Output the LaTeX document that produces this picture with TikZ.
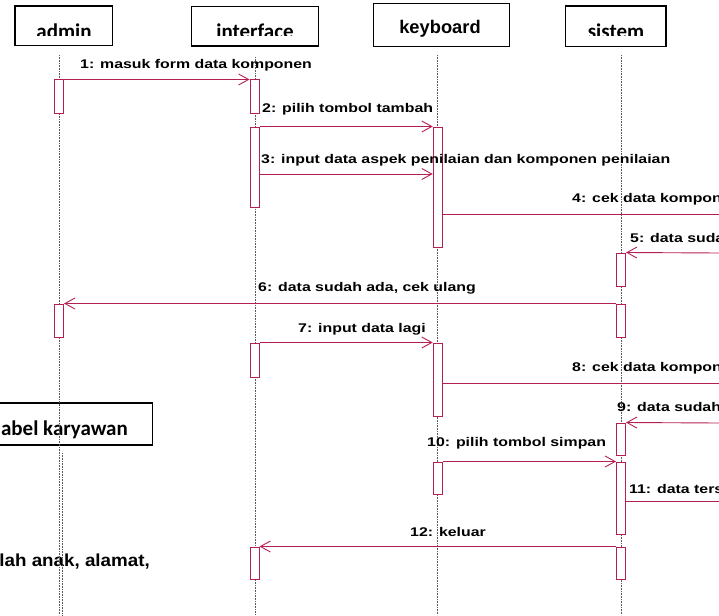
\documentclass[tikz,border=0pt]{standalone}
\usepackage{fontspec}
\setmainfont{Liberation Sans}
\newfontfamily\msgfont{Liberation Sans}[FakeStretch=1.26]
\newfontfamily\notefont{Liberation Sans}[FakeStretch=1.08]
\newfontfamily\calfont{Carlito}
\usetikzlibrary{arrows.meta}
\definecolor{msgred}{RGB}{180,32,86}
\definecolor{lifegray}{RGB}{90,90,90}

\begin{document}
\begin{tikzpicture}[x=1pt,y=-1pt,
  hdr/.style={draw=black, line width=1.5pt, fill=white, inner sep=0pt},
  hdrtext/.style={anchor=base, inner sep=0pt, font=\calfont\bfseries\fontsize{21}{24}\selectfont},
  act/.style={draw=msgred, fill=white, line width=1pt, minimum width=9pt, inner sep=0pt},
  life/.style={draw=lifegray, line width=0.6pt, dash pattern=on 0.8pt off 0.8pt},
  msg/.style={draw=msgred, line width=0.9pt, -{Straight Barb[length=10pt,width=11pt,line width=0.9pt]}},
  msgline/.style={draw=msgred, line width=0.9pt},
  lbl/.style={anchor=base west, inner sep=0pt, font=\msgfont\bfseries\fontsize{12.6}{15}\selectfont}]

\useasboundingbox (0,0) rectangle (719,615);
\clip (0,0) rectangle (719,615);

% ---- participant boxes ----
\node[hdr, minimum width=97.5pt, minimum height=39.5pt] (hA) at (63.7,25.7) {};
\node[hdr, minimum width=126.6pt, minimum height=39.3pt] (hI) at (255,26.3) {};
\node[hdr, minimum width=136pt, minimum height=43.3pt] (hK) at (441.3,25) {};
\node[hdr, minimum width=100.3pt, minimum height=40.7pt] (hS) at (615.8,26.3) {};

% participant names (the lower part is cut off)
\begin{scope}
  \clip (0,0) rectangle (719,36);
  \node[hdrtext] (tA) at (64,38.7) {admin};
  \node[hdrtext] (tI) at (255,38.7) {interface};
  \node[hdrtext] (tS) at (616,38.2) {sistem};
\end{scope}
\node[anchor=base, inner sep=0pt, font=\bfseries\fontsize{18.3}{21}\selectfont] (tK) at (440,33.3) {keyboard};

% ---- second object partly visible on the left ----
\node[hdr, minimum width=180.4pt, minimum height=42pt] (hT) at (62.5,424) {};
\node[anchor=base east, inner sep=0pt, font=\calfont\bfseries\fontsize{21}{24}\selectfont] (tT) at (128,435) {abel karyawan};
\node[anchor=base east, inner sep=0pt, font=\notefont\bfseries\fontsize{17.4}{20}\selectfont] (nT) at (150,566.7) {lah anak, alamat,};

% ---- lifelines ----
\coordinate (lA0) at (59,55);    \coordinate (lA1) at (59,615);
\coordinate (lI0) at (255,57);   \coordinate (lI1) at (255,615);
\coordinate (lK0) at (437.7,55); \coordinate (lK1) at (437.7,615);
\coordinate (lS0) at (621,55);   \coordinate (lS1) at (621,615);
\coordinate (lT0) at (62.5,453); \coordinate (lT1) at (62.5,615);
\draw[life] (lA0) -- (lA1);
\draw[life] (lI0) -- (lI1);
\draw[life] (lK0) -- (lK1);
\draw[life] (lS0) -- (lS1);
\draw[life] (lT0) -- (lT1);

% ---- activation bars ----
\node[act, minimum height=33pt] (a1)  at (59,96.5) {};
\node[act, minimum height=33pt] (i1)  at (254.5,96.5) {};
\node[act, minimum height=80pt] (i2)  at (254.5,167) {};
\node[act, minimum height=120pt] (k2) at (437.7,187) {};
\node[act, minimum height=33pt] (s5)  at (621,269.5) {};
\node[act, minimum height=33pt] (a6)  at (59,320.5) {};
\node[act, minimum height=33pt] (s6)  at (621,320.5) {};
\node[act, minimum height=34pt] (i7)  at (254.5,360) {};
\node[act, minimum height=73pt] (k7)  at (437.7,379.5) {};
\node[act, minimum height=32pt] (s9)  at (621,439) {};
\node[act, minimum height=32pt] (k10) at (437.7,478) {};
\node[act, minimum height=72pt] (s10) at (621,498) {};
\node[act, minimum height=32pt] (i12) at (254.5,563) {};
\node[act, minimum height=32pt] (s12) at (621,563) {};

% ---- messages ----
\coordinate (m3) at (0,174);
\coordinate (e4) at (719,214);
\coordinate (e5) at (719,253);
\coordinate (e8) at (719,383);
\coordinate (e9) at (719,423);
\coordinate (e11) at (719,501);

\draw[msg] (a1.north east) -- (i1.north west);
\draw[msg] (i2.north east) -- (k2.north west);
\draw[msg] (i2.east |- m3) -- (k2.west |- m3);
\draw[msgline] (k2.east |- e4) -- (e4);
\draw[msg] (e5) -- (s5.north east);
\draw[msg] (s6.north west) -- (a6.north east);
\draw[msg] (i7.north east) -- (k7.north west);
\draw[msgline] (k7.east |- e8) -- (e8);
\draw[msg] (e9) -- (s9.north east);
\draw[msg] (k10.north east) -- (s10.north west);
\draw[msgline] (s10.east |- e11) -- (e11);
\draw[msg] (s12.north west) -- (i12.north east);

% ---- message labels ----
\node[lbl] (L1)  at (80,68.3)   {1: masuk form data komponen};
\node[lbl] (L2)  at (262,113)   {2: pilih tombol tambah};
\node[lbl] (L3)  at (261,163)   {3: input data aspek penilaian dan komponen penilaian};
\node[lbl] (L4)  at (572,202.7) {4: cek data komponen};
\node[lbl] (L5)  at (630,242)   {5: data sudah};
\node[lbl] (L6)  at (258,291)   {6: data sudah ada, cek ulang};
\node[lbl] (L7)  at (298,332)   {7: input data lagi};
\node[lbl] (L8)  at (572,371.7) {8: cek data komponen};
\node[lbl] (L9)  at (617,411.7) {9: data sudah};
\node[lbl] (L10) at (427,446.7) {10: pilih tombol simpan};
\node[lbl] (L11) at (629,493)   {11: data tersimpan};
\node[lbl] (L12) at (410,536)   {12: keluar};
\end{tikzpicture}
\end{document}
